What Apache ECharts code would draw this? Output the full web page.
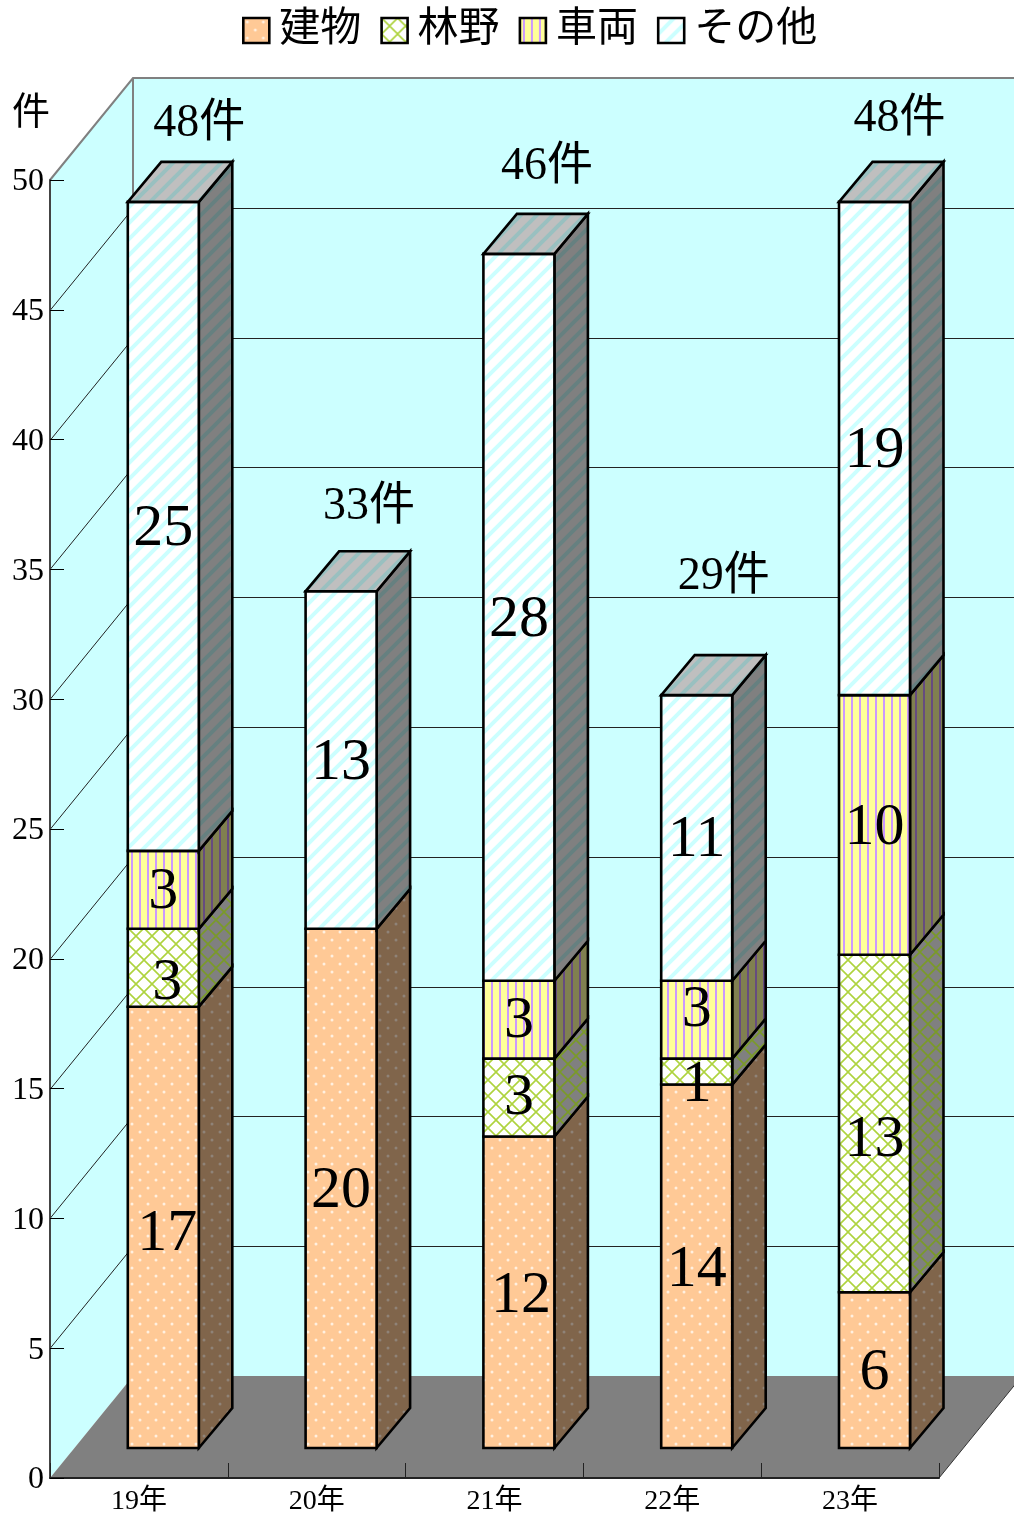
<!DOCTYPE html>
<html><head><meta charset="utf-8">
<style>html,body{margin:0;padding:0;background:#fff}#c{width:1014px;height:1515px}</style>
<script src="https://cdn.jsdelivr.net/npm/echarts@6/dist/echarts.min.js"></script>
</head><body><div id="c"></div>
<script>
var categories = ['19年','20年','21年','22年','23年'];
var seriesNames = ['建物','林野','車両','その他'];
var building = [17,20,12,14,6];
var forest = [3,0,3,1,13];
var vehicle = [3,0,3,3,10];
var other = [25,13,28,11,19];
var totals = [48,33,46,29,48];
var unitLabel = '件';

var stackValues = [building, forest, vehicle, other];
var FONT = '"Liberation Serif","Noto Sans CJK JP",serif';
// pixel projection of the pseudo-3D view
var WALL_DX = 83, WALL_DY = 102, FRONT_DX = 24.4, FRONT_DY = 30, SIDE_DX = 33.5, SIDE_DY = 40, BAR_W = 71, BAR_LW = 2.6;
// hand-placed label offsets of the reference (px)
var valueNudge = [
  [[4,7],[0,3],[2,4],[0,4],[0,3]],
  [[4,16],[0,0],[0,1],[0,14],[0,17]],
  [[0,2],[0,0],[0,2],[0,-9],[0,3]],
  [[0,3],[0,3],[0,3],[0,2],[0,3]]
];
var totalNudge = [[36,-78],[28,-84],[28,-87],[27,-118],[25,-83]];

function tile(w,h,base,draw){
  var c=document.createElement('canvas');c.width=w;c.height=h;
  var g=c.getContext('2d');g.fillStyle=base;g.fillRect(0,0,w,h);draw(g);
  return {image:c,repeat:'repeat'};
}
function dots(base,ink){return tile(16,16,base,function(g){g.fillStyle=ink;
  [[4,4],[12,12]].forEach(function(p){g.beginPath();g.arc(p[0],p[1],1.5,0,7);g.fill();});});}
function cross(base,ink){return tile(16,16,base,function(g){g.strokeStyle=ink;g.lineWidth=1.6;
  g.beginPath();g.moveTo(0,0);g.lineTo(16,16);g.moveTo(0,16);g.lineTo(16,0);g.stroke();});}
function vstripe(base,ink){return tile(8,8,base,function(g){g.fillStyle=ink;g.fillRect(3,0,2,8);});}
function dstripe(base,ink){return tile(16,16,base,function(g){g.strokeStyle=ink;g.lineWidth=4;
  g.beginPath();g.moveTo(-4,20);g.lineTo(20,-4);g.moveTo(-12,12);g.lineTo(12,-12);g.moveTo(4,28);g.lineTo(28,4);g.stroke();});}
var frontFill = [dots('#ffc996','#fff0e0'),cross('#ffffff','#aed33e'),vstripe('#ffff99','#cc99ff'),dstripe('#ffffff','#ccffff')];
var sideFill = [dots('#80654b','#8f8378'),cross('#808080','#7a9a28'),vstripe('#808050','#664c80'),dstripe('#808080','#668080')];
var topFill = [dots('#c09770','#d0b090'),cross('#c0c0c0','#a0c040'),vstripe('#c0c070','#9a73c0'),dstripe('#bfbfbf','#99c0c0')];

function poly(pts,fill,stroke,lw,z2){
  return {type:'polygon',shape:{points:pts},z2:z2||0,style:{fill:fill,stroke:stroke||null,lineWidth:lw||0,lineJoin:'miter'}};
}
function renderWalls(params,api){
  var band=api.size([1,0])[0];
  var x0=api.coord([0,0])[0]-band/2, x1=api.coord([categories.length-1,0])[0]+band/2;
  var y0=api.coord([0,0])[1], yT=api.coord([0,50])[1];
  var kids=[
    poly([[x0,yT],[x0+WALL_DX,yT-WALL_DY],[x1+WALL_DX,yT-WALL_DY],[x1+WALL_DX,y0-WALL_DY],[x0+WALL_DX,y0-WALL_DY],[x0,y0]],'#ccffff'),
    poly([[x0,y0],[x1,y0],[x1+WALL_DX,y0-WALL_DY],[x0+WALL_DX,y0-WALL_DY]],'#808080')
  ];
  for(var v=5;v<50;v+=5){
    var y=Math.round(api.coord([0,v])[1])+0.5;
    kids.push({type:'polyline',shape:{points:[[x0,y],[x0+WALL_DX,y-WALL_DY],[x1+WALL_DX,y-WALL_DY]]},style:{fill:null,stroke:'#222',lineWidth:1}});
  }
  kids.push({type:'polyline',shape:{points:[[x0,yT],[x0+WALL_DX,yT-WALL_DY],[x1+WALL_DX,yT-WALL_DY]]},style:{fill:null,stroke:'#808080',lineWidth:2}});
  kids.push({type:'polyline',shape:{points:[[x0+WALL_DX,yT-WALL_DY],[x0+WALL_DX,y0-WALL_DY]]},style:{fill:null,stroke:'#808080',lineWidth:2}});
  kids.push({type:'polyline',shape:{points:[[x1,y0],[x1+WALL_DX,y0-WALL_DY]]},style:{fill:null,stroke:'#333',lineWidth:1}});
  return {type:'group',children:kids};
}
function makeBarRender(s){
  return function(params,api){
    var i=api.value(0), a=api.value(1), b=api.value(2);
    if(b<=a) return {type:'group',children:[]};
    var pa=api.coord([i,a]), pb=api.coord([i,b]);
    var l=pa[0]+FRONT_DX-BAR_W/2, r=l+BAR_W, yb=pa[1]-FRONT_DY, yt=pb[1]-FRONT_DY;
    var kids=[
      poly([[r,yb],[r+SIDE_DX,yb-SIDE_DY],[r+SIDE_DX,yt-SIDE_DY],[r,yt]],sideFill[s],'#000',BAR_LW),
      poly([[l,yb],[r,yb],[r,yt],[l,yt]],frontFill[s],'#000',BAR_LW)
    ];
    if(Math.abs(b-totals[i])<1e-6){
      kids.push(poly([[l,yt],[r,yt],[r+SIDE_DX,yt-SIDE_DY],[l+SIDE_DX,yt-SIDE_DY]],topFill[s],'#000',BAR_LW));
    }
    return {type:'group',children:kids};
  };
}
function renderLabel(params,api){
  var p=api.coord([api.value(0),api.value(1)]);
  var big=api.value(5);
  return {type:'text',style:{text:big?api.value(2)+'':api.value(2)+'件',
    x:p[0]+FRONT_DX+api.value(3),y:p[1]-FRONT_DY+api.value(4),
    align:'center',verticalAlign:'middle',fontFamily:FONT,fontSize:big?60:46,fill:'#000'}};
}

var series=[{type:'custom',name:'walls',z:1,silent:true,data:[[0,0]],encode:{x:0,y:1},renderItem:renderWalls}];
var running=categories.map(function(){return 0;});
var valueRows=[];
stackValues.forEach(function(vals,s){
  var rows=vals.map(function(v,i){
    var row=[i,running[i],running[i]+v];
    if(v>0) valueRows.push([i,running[i]+v/2,v,valueNudge[s][i][0],valueNudge[s][i][1],1]);
    running[i]+=v;
    return row;
  });
  series.push({type:'custom',name:seriesNames[s],z:3,silent:true,data:rows,encode:{x:0,y:[1,2]},
    itemStyle:{color:frontFill[s]},renderItem:makeBarRender(s)});
});
totals.forEach(function(t,i){valueRows.push([i,t,t,totalNudge[i][0],totalNudge[i][1],0]);});
series.push({type:'custom',name:'labels',z:4,silent:true,data:valueRows,encode:{x:0,y:1},renderItem:renderLabel});

var chart=echarts.init(document.getElementById('c'),null,{renderer:'canvas'});
chart.setOption({
  animation:false,
  backgroundColor:'#fff',
  title:{text:unitLabel,left:12,top:95,padding:0,textStyle:{fontFamily:FONT,fontSize:38,fontWeight:'normal',color:'#000'}},
  legend:{selectedMode:false,left:242,top:10,itemWidth:26,itemHeight:25,itemGap:19,padding:0,
    textStyle:{fontFamily:FONT,fontSize:41,color:'#000',padding:[4,0,0,5]},
    data:seriesNames.map(function(n,s){return {name:n,icon:'rect',itemStyle:{color:frontFill[s],borderColor:'#000',borderWidth:2.6}};})},
  grid:{left:50,right:75,top:180,bottom:37,outerBoundsMode:'none'},
  xAxis:{type:'category',data:categories,z:2,boundaryGap:true,
    axisLine:{lineStyle:{color:'#222',width:2}},
    axisTick:{show:true,inside:true,length:15,alignWithLabel:false,lineStyle:{color:'#222',width:1}},
    axisLabel:{fontFamily:FONT,fontSize:28,color:'#000',margin:10}},
  yAxis:{type:'value',min:0,max:50,interval:5,z:2,
    splitLine:{show:false},
    axisLine:{show:true,lineStyle:{color:'#444',width:2}},
    axisTick:{show:true,inside:true,length:14,lineStyle:{color:'#000',width:1}},
    axisLabel:{fontFamily:FONT,fontSize:32,color:'#000',margin:6,verticalAlign:'top',lineHeight:4}},
  series:series
});
</script></body></html>
